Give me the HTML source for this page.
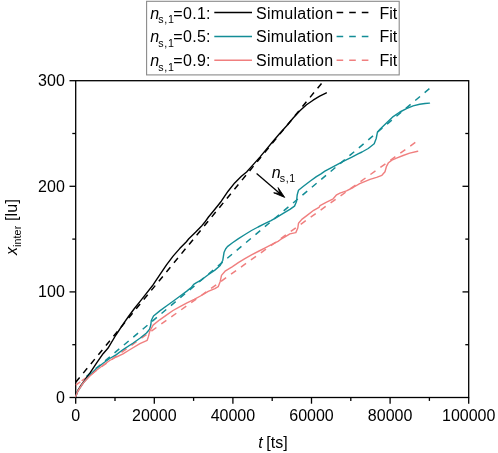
<!DOCTYPE html>
<html><head><meta charset="utf-8"><title>chart</title>
<style>html,body{margin:0;padding:0;background:#fff;width:498px;height:453px;overflow:hidden}</style></head>
<body>
<svg width="498" height="453" viewBox="0 0 498 453" style="position:absolute;left:0;top:0;will-change:transform;font-family:'Liberation Sans',sans-serif;font-size:16px;fill:#000">
<rect width="498" height="453" fill="#fff"/>
<g stroke="#000" stroke-width="1.3" fill="none">
<rect x="75.7" y="80.7" width="393.0" height="316.8"/>
<path d="M75.7,397.5 v6.2"/>
<path d="M115.0,397.5 v3.4"/>
<path d="M154.3,397.5 v6.2"/>
<path d="M193.6,397.5 v3.4"/>
<path d="M232.9,397.5 v6.2"/>
<path d="M272.2,397.5 v3.4"/>
<path d="M311.5,397.5 v6.2"/>
<path d="M350.8,397.5 v3.4"/>
<path d="M390.1,397.5 v6.2"/>
<path d="M429.4,397.5 v3.4"/>
<path d="M468.7,397.5 v6.2"/>
<path d="M75.7,397.5 h-6.2"/>
<path d="M75.7,344.7 h-3.4"/>
<path d="M468.7,344.7 h-3.4"/>
<path d="M75.7,291.9 h-6.2"/>
<path d="M75.7,239.1 h-3.4"/>
<path d="M468.7,239.1 h-3.4"/>
<path d="M468.7,291.9 h-6.2"/>
<path d="M75.7,186.3 h-6.2"/>
<path d="M75.7,133.5 h-3.4"/>
<path d="M468.7,133.5 h-3.4"/>
<path d="M468.7,186.3 h-6.2"/>
<path d="M75.7,80.7 h-6.2"/>
</g>
<clipPath id="cp"><rect x="75.7" y="80.7" width="393.0" height="316.8"/></clipPath>
<g fill="none" stroke-width="1.5" clip-path="url(#cp)">
<path d="M75.7,382.3 L326.3,77.6" stroke="#000" stroke-dasharray="6.2 5.7"/>
<path d="M86.32,376.58 L429.4,88.6" stroke="#138D96" stroke-dasharray="6.2 6.07"/>
<path d="M75.7,385.2 L417.7,140.7" stroke="#F07F7F" stroke-dasharray="6.2 6.04" stroke-dashoffset="4.9"/>
<path d="M75.7,385.2 L80.3,381.9" stroke="#F07F7F"/>
</g>
<g fill="none" stroke-width="1.4" stroke-linejoin="round" stroke-linecap="round">
<path d="M75.7,396.6 L77.9,390.3 L80.5,386.0 L83.2,382.4 L89.9,373.1 L96.5,363.2 L103.1,353.7 L107.9,348.3 L115.9,335.0 L123.8,323.1 L128.5,316.5 L134.4,308.5 L139.7,301.9 L146.0,293.9 L153.2,284.7 L159.9,274.7 L166.5,264.8 L173.1,256.1 L179.7,248.6 L186.4,241.7 L188.8,238.8 L195.5,232.2 L202.1,225.4 L204.7,222.3 L208.5,217.0 L214.9,209.2 L221.3,201.2 L228.1,191.2 L234.7,182.9 L241.4,176.3 L246.6,172.0 L253.2,164.6 L259.9,157.1 L266.5,149.1 L273.1,141.2 L279.7,133.5 L286.5,126.0 L293.2,118.0 L299.9,110.8 L306.5,104.8 L313.1,100.2 L319.7,96.2 L326.4,92.9" stroke="#000"/>
<path d="M75.7,396.6 L77.9,391.0 L83.2,383.0 L89.9,375.1 L96.5,368.5 L103.1,363.2 L109.7,358.5 L116.4,354.6 L123.5,349.3 L133.2,343.0 L139.9,338.3 L146.5,333.0 L149.6,329.3 L150.8,325.0 L151.3,320.5 L153.5,316.0 L160.1,310.6 L166.8,305.7 L173.4,301.0 L180.2,296.0 L187.1,290.9 L191.5,287.2 L193.7,284.3 L196.5,282.6 L201.6,279.8 L208.2,274.8 L214.9,270.1 L220.2,265.5 L222.8,260.2 L224.1,252.2 L225.6,249.0 L227.4,246.6 L232.5,242.8 L238.5,238.6 L245.0,234.5 L251.5,230.5 L258.1,227.0 L264.7,223.7 L271.0,220.6 L277.5,216.8 L283.2,213.3 L289.9,209.4 L294.5,206.1 L296.5,201.5 L297.2,194.9 L298.5,190.2 L303.1,186.5 L310.0,181.2 L316.4,176.6 L321.0,173.8 L324.9,171.2 L331.5,167.6 L338.1,164.1 L344.7,160.7 L351.4,157.3 L358.0,153.9 L362.0,152.0 L368.2,148.5 L374.2,143.8 L376.2,138.5 L377.5,131.9 L380.5,128.8 L386.7,122.8 L393.2,116.6 L399.9,112.0 L406.5,108.7 L413.1,105.9 L419.7,104.2 L425.0,103.5 L429.5,103.1" stroke="#138D96"/>
<path d="M75.7,396.6 L77.9,391.0 L83.2,383.0 L89.9,376.0 L96.5,370.2 L103.1,365.2 L109.7,360.5 L116.4,357.0 L123.0,353.9 L129.3,350.0 L139.9,343.6 L147.2,340.3 L148.5,336.4 L149.8,331.1 L153.1,325.1 L159.7,319.8 L166.4,315.2 L173.0,310.5 L180.0,306.6 L187.0,302.8 L194.2,299.3 L202.3,295.0 L208.2,291.3 L214.9,288.6 L218.2,286.7 L220.2,281.4 L221.5,275.4 L225.5,270.8 L232.1,266.8 L238.7,262.4 L244.9,258.6 L251.5,254.8 L258.1,251.5 L264.7,248.1 L271.4,244.7 L278.0,241.3 L280.6,239.5 L285.0,236.9 L289.9,233.9 L295.8,232.6 L297.8,228.0 L298.5,223.3 L301.8,219.4 L307.1,215.4 L313.7,210.3 L319.0,207.3 L320.0,205.6 L326.6,202.1 L333.2,198.8 L336.6,194.8 L339.9,193.1 L346.5,190.8 L353.1,187.5 L359.7,183.7 L366.4,180.9 L370.0,179.4 L376.6,177.3 L381.9,175.3 L385.0,171.8 L386.5,166.3 L388.5,162.7 L391.9,160.1 L396.5,158.1 L403.1,155.5 L409.7,153.1 L417.7,151.2" stroke="#F07F7F"/>
</g>
<text x="75.7" y="421.3" text-anchor="middle">0</text>
<text x="154.3" y="421.3" text-anchor="middle">20000</text>
<text x="232.9" y="421.3" text-anchor="middle">40000</text>
<text x="311.5" y="421.3" text-anchor="middle">60000</text>
<text x="390.1" y="421.3" text-anchor="middle">80000</text>
<text x="468.7" y="421.3" text-anchor="middle">100000</text>
<text x="64.8" y="402.9" text-anchor="end">0</text>
<text x="64.8" y="297.3" text-anchor="end">100</text>
<text x="64.8" y="191.7" text-anchor="end">200</text>
<text x="64.8" y="86.1" text-anchor="end">300</text>
<text x="258.3" y="447.5" font-style="italic">t</text>
<text x="266.3" y="447.5">[ts]</text>
<g transform="translate(17.3,255) rotate(-90)"><text x="0" y="0"><tspan font-style="italic">x</tspan><tspan font-size="10.7" dy="3.7" letter-spacing="0.1">inter</tspan><tspan dy="-3.7" letter-spacing="0.2"> [lu]</tspan></text></g>
<text x="271.7" y="177.6" font-style="italic">n</text>
<text x="279.8" y="182.1" font-size="10.7" letter-spacing="0.6">s,1</text>
<path d="M256.6,173.5 L281,194.4" stroke="#000" stroke-width="1.3" fill="none"/>
<path d="M284.7,197.4 L278.1,187.6 L279.9,193.4 L273.7,192.8 Z" fill="#000" stroke="#000" stroke-width="0.9" stroke-linejoin="miter"/>
<rect x="146.6" y="1.3" width="252.6" height="73.6" fill="#fff" stroke="#8a8a8a" stroke-width="1.1"/>
<text x="150.2" y="18.6" font-style="italic">n</text>
<text x="158.3" y="22.9" font-size="10.7" letter-spacing="0.7">s,1</text>
<text x="173.3" y="18.6" letter-spacing="0.3">=0.1:</text>
<path d="M214.3,12.5 H252" stroke="#000" stroke-width="1.4" fill="none"/>
<text x="256" y="18.6" letter-spacing="0.27">Simulation</text>
<path d="M336.6,12.5 H374.4" stroke="#000" stroke-width="1.4" stroke-dasharray="6.6 6" fill="none"/>
<text x="379.5" y="18.6">Fit</text>
<text x="150.2" y="42.4" font-style="italic">n</text>
<text x="158.3" y="46.7" font-size="10.7" letter-spacing="0.7">s,1</text>
<text x="173.3" y="42.4" letter-spacing="0.3">=0.5:</text>
<path d="M214.3,36.5 H252" stroke="#138D96" stroke-width="1.4" fill="none"/>
<text x="256" y="42.4" letter-spacing="0.27">Simulation</text>
<path d="M336.6,36.5 H374.4" stroke="#138D96" stroke-width="1.4" stroke-dasharray="6.6 6" fill="none"/>
<text x="379.5" y="42.4">Fit</text>
<text x="150.2" y="66.2" font-style="italic">n</text>
<text x="158.3" y="70.5" font-size="10.7" letter-spacing="0.7">s,1</text>
<text x="173.3" y="66.2" letter-spacing="0.3">=0.9:</text>
<path d="M214.3,60.2 H252" stroke="#F07F7F" stroke-width="1.4" fill="none"/>
<text x="256" y="66.2" letter-spacing="0.27">Simulation</text>
<path d="M336.6,60.2 H374.4" stroke="#F07F7F" stroke-width="1.4" stroke-dasharray="6.6 6" fill="none"/>
<text x="379.5" y="66.2">Fit</text>
</svg>
</body></html>
